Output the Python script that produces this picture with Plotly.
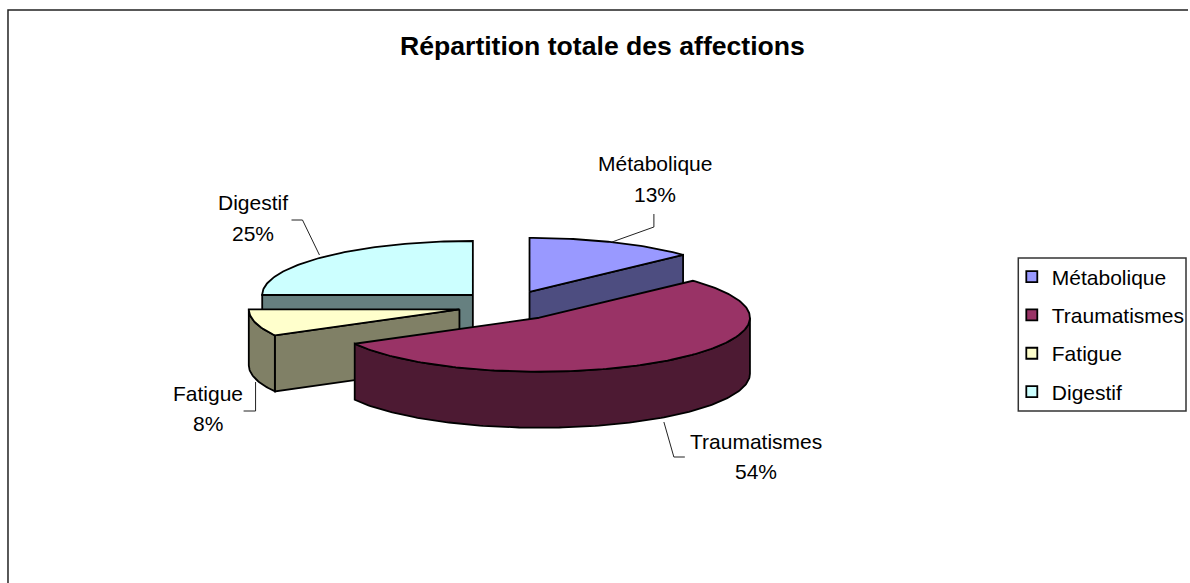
import numpy as np
import plotly.graph_objects as go

title = "Répartition totale des affections"
categories = ["Métabolique", "Traumatismes", "Fatigue", "Digestif"]
values = [13, 54, 8, 25]
top_colors = ["#9999FF", "#993366", "#FFFFCC", "#CCFFFF"]
wall_colors = ["#4D4D80", "#4D1A33", "#808066", "#668080"]

W, H = 1190, 583
CX, CY = 510.0, 305.6       # pie centre
A, B = 211.0, 54.0          # ellipse radii
DEPTH = 56.0
EX, EY = 51.4, 15.0         # explosion offsets
FONT = "Liberation Sans, Arial, sans-serif"
LINE = dict(color="#000000", width=1.8)

label_pos = {"Métabolique": (656, 163, 194), "Traumatismes": (757, 441, 471),
             "Fatigue": (208, 393, 423), "Digestif": (253, 202, 233)}
leaders = {"Métabolique": [(655, 214), (655, 227), (613, 242)],
           "Traumatismes": [(665, 422), (675, 457), (686, 457)],
           "Fatigue": [(244, 411), (256, 411), (256, 382)],
           "Digestif": [(292, 220), (303, 220), (320, 255)]}


def rim(cx, cy, t0, t1, dy=0.0):
    a = np.radians(np.linspace(t0, t1, max(int(abs(t1 - t0)) + 2, 2)))
    return cx + A * np.sin(a), cy - B * np.cos(a) + dy


fig = go.Figure()


def poly(xs, ys, color):
    xs, ys = list(xs), list(ys)
    fig.add_trace(go.Scatter(x=xs + xs[:1], y=ys + ys[:1], mode="lines", fill="toself",
                             fillcolor=color, line=LINE, hoverinfo="skip", showlegend=False))


total = sum(values)
bounds = np.cumsum([0] + values) / total * 360.0
slices = []
for i, name in enumerate(categories):
    t0, t1 = bounds[i], bounds[i + 1]
    mid = np.radians((t0 + t1) / 2)
    slices.append((CY - EY * np.cos(mid), CX + EX * np.sin(mid), t0, t1, i))

for cy, cx, t0, t1, i in sorted(slices):
    # radial cut faces that look towards the viewer
    for t, visible in ((t0, np.sin(np.radians(t0)) < 0), (t1, np.sin(np.radians(t1)) > 0)):
        if visible:
            rx, ry = rim(cx, cy, t, t)
            poly([cx, rx[0], rx[0], cx], [cy, ry[0], ry[0] + DEPTH, cy + DEPTH], wall_colors[i])
    # outer wall
    lo, hi = max(t0, 90), min(t1, 270)
    if hi > lo:
        rx, ry = rim(cx, cy, lo, hi)
        poly(np.r_[rx, rx[::-1]], np.r_[ry, ry[::-1] + DEPTH], wall_colors[i])
    # top
    rx, ry = rim(cx, cy, t0, t1)
    poly(np.r_[cx, rx], np.r_[cy, ry], top_colors[i])

# legend entries
for i, name in enumerate(categories):
    fig.add_trace(go.Scatter(x=[None], y=[None], mode="markers", name=name, legendgroup=name,
                             marker=dict(symbol="square", size=11, color=top_colors[i],
                                         line=dict(color="#000000", width=1.8))))

annotations = [dict(text=f"<b>{title}</b>", x=603.5, y=46, xref="x", yref="y", showarrow=False,
                    font=dict(family=FONT, size=26.6, color="#000000"))]
for name, v in zip(categories, values):
    x, y1, y2 = label_pos[name]
    for txt, y in ((name, y1), (f"{round(v / total * 100)}%", y2)):
        annotations.append(dict(text=txt, x=x, y=y, xref="x", yref="y", showarrow=False,
                                font=dict(family=FONT, size=21, color="#000000")))
    pts = leaders[name]
    fig.add_trace(go.Scatter(x=[p[0] for p in pts], y=[p[1] for p in pts], mode="lines",
                             line=dict(color="#222222", width=1), hoverinfo="skip", showlegend=False))

fig.add_trace(go.Scatter(x=[8, 8, W], y=[H, 10, 10], mode="lines", line=dict(color="#222222", width=1.5),
                         hoverinfo="skip", showlegend=False))

fig.update_layout(
    width=W, height=H, margin=dict(l=0, r=0, t=0, b=0), autosize=False,
    paper_bgcolor="white", plot_bgcolor="white",
    xaxis=dict(range=[0, W], visible=False, fixedrange=True),
    yaxis=dict(range=[H, 0], visible=False, fixedrange=True),
    annotations=annotations,
    shapes=[dict(type="rect", xref="x", yref="y", x0=1020, x1=1188, y0=258, y1=411,
                 line=dict(color="#333333", width=1.5), fillcolor="white", layer="below")],
    legend=dict(x=1013.5 / W, y=1 - 256.5 / H, xanchor="left", yanchor="top",
                bgcolor="rgba(0,0,0,0)", borderwidth=0,
                tracegroupgap=8, itemwidth=30, entrywidth=125, entrywidthmode="pixels",
                itemclick=False, itemdoubleclick=False,
                font=dict(family=FONT, size=21, color="#000000")),
)
fig.write_html("out.html", config={"displayModeBar": False}, post_script="document.body.style.margin='0';")
